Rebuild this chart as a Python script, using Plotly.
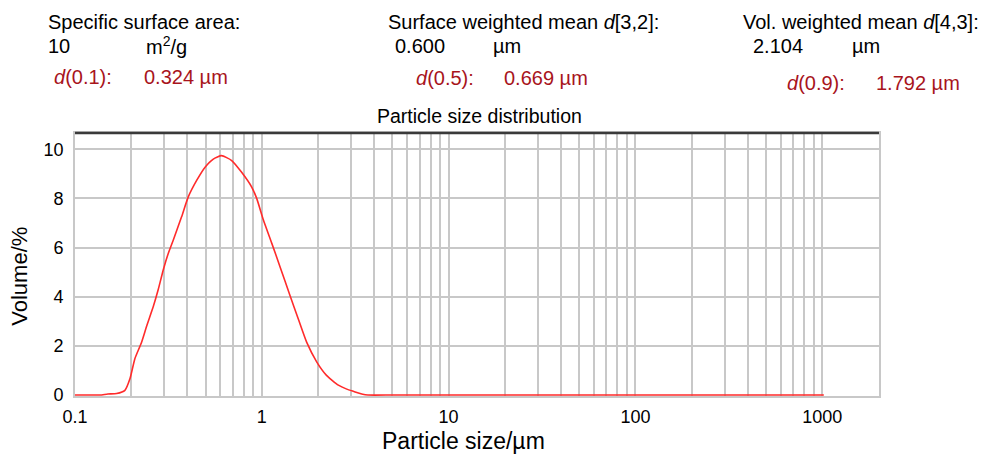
import plotly.graph_objects as go

# Particle size distribution (volume %)
size_um = [0.100, 0.120, 0.136, 0.150, 0.167, 0.185, 0.197, 0.209, 0.227, 0.242,
           0.263, 0.279, 0.297, 0.316, 0.336, 0.372, 0.404, 0.448, 0.497, 0.550,
           0.609, 0.690, 0.780, 0.883, 0.940, 1.02, 1.13, 1.25, 1.42, 1.57,
           1.74, 1.97, 2.22, 2.57, 2.85, 3.09, 3.47, 3.70, 5.0, 10.0,
           50.0, 100.0, 500.0, 1020.0]
volume_pct = [0.0, 0.0, 0.0, 0.04, 0.06, 0.19, 0.67, 1.47, 2.14, 2.81,
              3.62, 4.29, 5.10, 5.77, 6.31, 7.25, 8.06, 8.73, 9.27, 9.60,
              9.74, 9.54, 9.06, 8.46, 7.99, 7.12, 6.18, 5.23, 4.02, 3.08,
              2.14, 1.34, 0.80, 0.40, 0.24, 0.15, 0.03, 0.0, 0.0, 0.0,
              0.0, 0.0, 0.0, 0.0]

major_x = [0.1, 1, 10, 100, 1000]
major_x_text = ["0.1", "1", "10", "100", "1000"]
y_ticks = [0, 2, 4, 6, 8, 10]

# minor gridline positions: 2..9 per decade from 0.1 to 1000
minor_x = [round(m * dec, 6) for dec in [0.1, 1, 10, 100] for m in range(2, 10)]

RED = "#a8141c"
FONT = "Liberation Sans, Arial, Helvetica, sans-serif"
GRID = "#c8c8c8"

fig = go.Figure()
fig.add_trace(go.Scatter(
    x=size_um, y=volume_pct, mode="lines",
    line=dict(color="#ff2b2b", width=1.6, shape="spline", smoothing=0.5),
    hoverinfo="skip", showlegend=False))

# plot area geometry (pixels)
L, R, T, B = 75, 879, 133, 396.5
W, H = R - L, B - T

def px(x):
    return (x - L) / W

def py(y):
    return (B - y) / H

annots = [
    ("Specific surface area:", 46, 21.5, "black"),
    ("10", 46, 45.5, "black"),
    ("m<sup>2</sup>/g", 144, 45.5, "black"),
    ("<i>d</i>(0.1):", 52, 77, RED),
    ("0.324 µm", 142, 77, RED),
    ("Surface weighted mean <i>d</i>[3,2]:", 386, 21.5, "black"),
    ("0.600", 393, 45.5, "black"),
    ("µm", 491, 45.5, "black"),
    ("<i>d</i>(0.5):", 414, 78, RED),
    ("0.669 µm", 502, 78, RED),
    ("Vol. weighted mean <i>d</i>[4,3]:", 741, 21.5, "black"),
    ("2.104", 751, 45.5, "black"),
    ("µm", 850, 45.5, "black"),
    ("<i>d</i>(0.9):", 785, 82.5, RED),
    ("1.792 µm", 874, 82.5, RED),
]
for text, x, y, col in annots:
    fig.add_annotation(text=text, x=px(x), y=py(y), xref="paper", yref="paper",
                       xanchor="left", yanchor="middle", showarrow=False,
                       font=dict(family=FONT, size=20, color=col))

fig.add_annotation(text="Particle size distribution", x=px(479.5), y=py(115.5),
                   xref="paper", yref="paper", xanchor="center", yanchor="middle",
                   showarrow=False, font=dict(family=FONT, size=19.5, color="black"))
fig.add_annotation(text="Particle size/µm", x=px(463), y=py(442),
                   xref="paper", yref="paper", xanchor="center", yanchor="middle",
                   showarrow=False, font=dict(family=FONT, size=23, color="black"))
fig.add_annotation(text="Volume/%", x=px(20), y=py(277), textangle=-90,
                   xref="paper", yref="paper", xanchor="center", yanchor="middle",
                   showarrow=False, font=dict(family=FONT, size=22, color="black"))

# dark top border
fig.add_shape(type="line", xref="paper", yref="paper", x0=0, x1=1, y0=1, y1=1,
              line=dict(color="#3a3a3a", width=2.5))

fig.update_layout(
    width=985, height=456,
    margin=dict(l=L, r=985 - R, t=T, b=456 - B),
    paper_bgcolor="white", plot_bgcolor="white",
    font=dict(family=FONT, color="black"),
    showlegend=False,
)
fig.update_xaxes(
    type="log", range=[-1, 3.304],
    tickmode="array", tickvals=major_x, ticktext=major_x_text,
    showgrid=True, gridcolor=GRID, gridwidth=1.6,
    minor=dict(tickmode="array", tickvals=minor_x, showgrid=True,
               gridcolor=GRID, gridwidth=1.6, ticks=""),
    showline=True, linecolor=GRID, linewidth=1.6, mirror=True,
    layer="below traces", zeroline=False, ticks="",
    tickfont=dict(family=FONT, size=18, color="black"),
    ticklabelstandoff=4,
)
fig.update_yaxes(
    range=[-0.04, 10.66], tickmode="array", tickvals=y_ticks,
    showgrid=True, gridcolor=GRID, gridwidth=1.6,
    showline=True, linecolor=GRID, linewidth=1.6, mirror=True,
    layer="below traces", zeroline=False, ticks="",
    tickfont=dict(family=FONT, size=18, color="black"),
    ticklabelstandoff=6,
)

fig.write_html("out.html")
